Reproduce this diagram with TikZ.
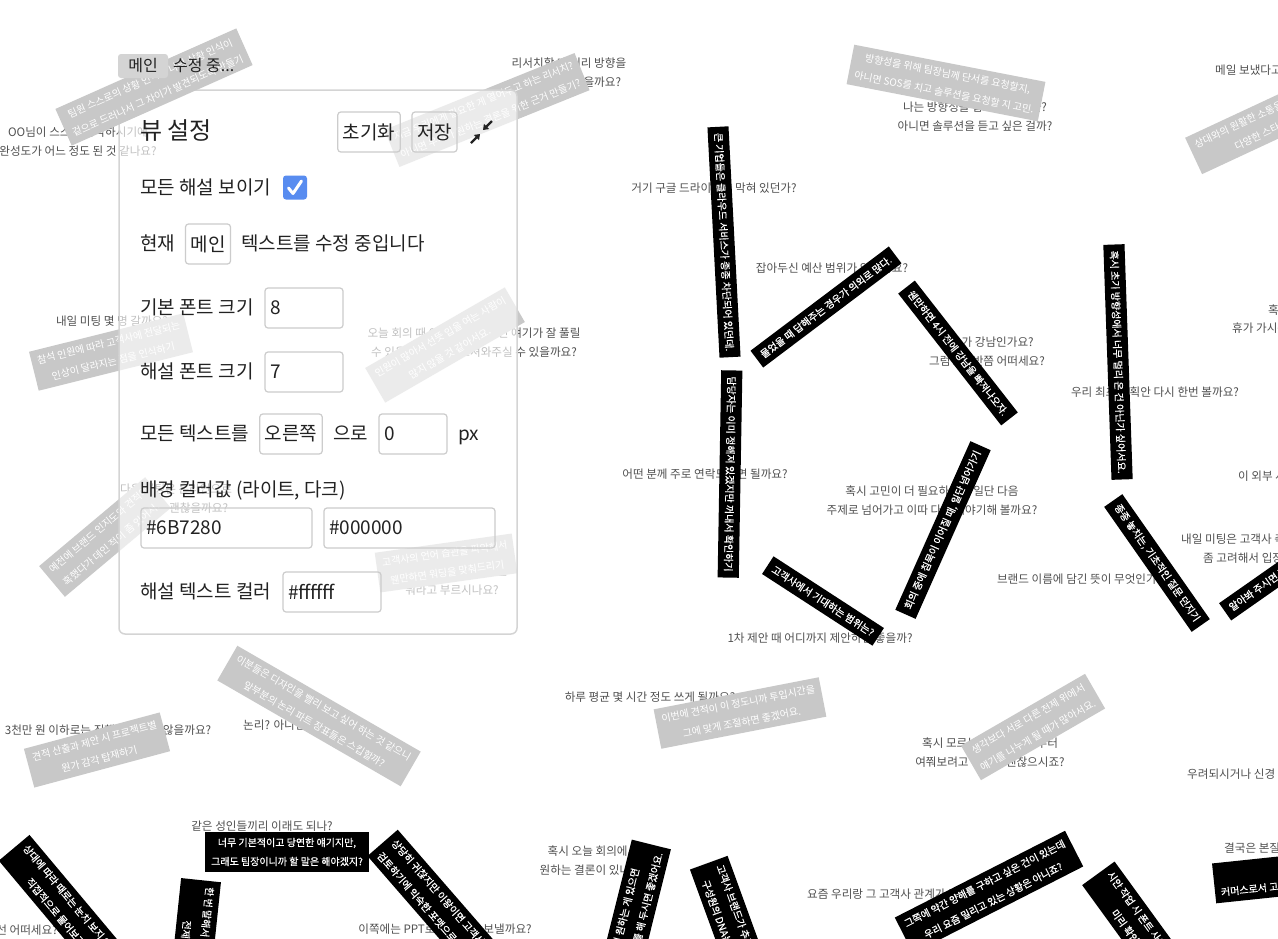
\documentclass[tikz,border=0pt]{standalone}
\usepackage{fontspec}
\setmainfont{Noto Sans CJK KR}
\newfontfamily\annbold{Noto Sans CJK KR}[FakeBold=0.6]
\usetikzlibrary{arrows.meta}

\definecolor{notegray}{RGB}{80,80,80}
\definecolor{anngray}{RGB}{200,200,200}
\definecolor{darktext}{RGB}{34,34,34}
\definecolor{panelline}{RGB}{212,212,212}
\definecolor{fieldline}{RGB}{204,204,204}
\definecolor{tabgray}{RGB}{212,212,212}
\definecolor{checkblue}{RGB}{88,140,240}

\tikzset{
  note/.style={text=notegray, font=\fontsize{11.6}{19}\selectfont, align=center, inner sep=0pt},
  annbox/.style={text=white, font=\fontsize{10}{19}\selectfont, align=center, inner xsep=6pt, inner ysep=6pt},
  grayann/.style={annbox, fill=anngray},
  blackann/.style={annbox, fill=black, font=\annbold\fontsize{10}{19}\selectfont},
  plabel/.style={anchor=west, inner sep=0pt, text height=14pt, text depth=4pt, text=darktext, font=\fontsize{19}{22}\selectfont},
  pbox/.style={draw=fieldline, line width=1.2pt, rounded corners=3pt, minimum height=40pt, inner xsep=5pt, text=darktext, font=\fontsize{19}{22}\selectfont},
  field/.style={pbox, align=left}
}

\begin{document}
\begin{tikzpicture}[x=1pt,y=-1pt]
  \fill[white] (0,0) rectangle (1278,938);
  \useasboundingbox (0,0) rectangle (1278,938);

  % Questions (gray text)
  \foreach \x/\y/\txt [count=\i] in {
      569/73/{리서치할 때 미리 방향을\\정해두면 좋았을까요?},
      78/142/{OO님이 스스로 생각하시기에\\완성도가 어느 정도 된 것 같나요?},
      975/117/{나는 방향성을 잡고 싶은 걸까?\\아니면 솔루션을 듣고 싶은 걸까?},
      714/188/{거기 구글 드라이브가 막혀 있던가?},
      832/268/{잡아두신 예산 범위가 있을까요?},
      987/352/{장소가 강남인가요?\\그럼 2시 반쯤 어떠세요?},
      705/474/{어떤 분께 주로 연락드리면 될까요?},
      932/501/{혹시 고민이 더 필요하시면 일단 다음\\주제로 넘어가고 이따 다시 이야기해 볼까요?},
      820/638/{1차 제안 때 어디까지 제안하면 좋을까?},
      1085/579/{브랜드 이름에 담긴 뜻이 무엇인가요?},
      1155/392/{우리 최초 기획안 다시 한번 볼까요?},
      112/321/{내일 미팅 몇 명 갈까요?},
      474/343/{오늘 회의 때 이런 분이 오시면 얘기가 잘 풀릴\\수 있을 것 같은데, 모셔와주실 수 있을까요?},
      176/499/{다음 미팅은 온라인으로\\진행해도 괜찮을까요?},
      452/581/{이 제품을 고객사에서는\\뭐라고 부르시나요?},
      108/730/{3천만 원 이하로는 진행이 어렵지 않을까요?},
      650/697/{하루 평균 몇 시간 정도 쓰게 될까요?},
      990/753/{혹시 모르는 부분은 처음부터\\여쭤보려고 하는데 괜찮으시죠?},
      262/826/{같은 성인들끼리 이래도 되나?},
      593/861/{혹시 오늘 회의에서\\원하는 결론이 있나요?},
      445/929/{이쪽에는 PPT로 정리해서 보낼까요?}}
    \node[note] (n\i) at (\x,\y) {\txt};

  % Questions cut at the edges
  \foreach \x/\y/\txt [count=\i] in {
      1215/70/{메일 보냈다고 하셨는데 혹시 받으셨나요?},
      1268/310/{혹시 다음 주에},
      1232/328/{휴가 가시는 분 계신가요?},
      1238/476/{이 외부 사이트는 접속이 되나요?},
      1181/539/{내일 미팅은 고객사 측 인원을},
      1203/558/{좀 고려해서 입장해야 할까요?},
      243/725/{논리? 아니면 디자인?},
      1187/774/{우려되시거나 신경 쓰이는 부분이 있으신가요?},
      1224/848/{결국은 본질이 중요하겠죠?},
      807/894/{요즘 우리랑 그 고객사 관계가 괜찮나요?}}
    \node[note, anchor=west] (w\i) at (\x,\y) {\txt};
  \node[note, anchor=east] (e1) at (58,930) {그럼 이 방향으로 우선 어떠세요?};

  % Gray notes
  \foreach \x/\y/\a/\txt [count=\i] in {
      487/110/22/{지금 우리에게 필요한 게 열어두고 하는 리서치?\\아니면 우리가 원하는 결론을 위한 근거 만들기?},
      946/83/-11/{방향성을 위해 팀장님께 단서를 요청할지,\\아니면 SOS를 치고 솔루션을 요청할 지 고민.},
      1275/118/25/{상대와의 원활한 소통을 위해 상대에 맞는\\다양한 스타일 익혀두기},
      111/352/14/{참석 인원에 따라 고객사에 전달되는\\인상이 달라지는 점을 인식하기},
      445/345/30/{인원이 많아서 선뜻 입을 여는 사람이\\많지 않을 것 같아서요.},
      105/537/40/{예전에 브랜드 인지도와 견적에\\혹했다가 데인 적이 좀 있어서.},
      446/563/8/{고객사의 언어 습관을 파악해서\\웬만하면 워딩을 맞춰드리기},
      97/750/15/{견적 산출과 제안 시 프로젝트별\\원가 감각 탑재하기},
      319/716/-30/{이분들은 디자인을 빨리 보고 싶어 하는 것 같으니\\앞부분의 논리 파트 장표들은 스킵할까?},
      740/713/11/{이번에 견적이 이 정도니까 투입시간을\\그에 맞게 조절하면 좋겠어요.},
      1033/727/30/{생각보다 서로 다른 전제 위에서\\얘기를 나누게 될 때가 많아서요.}}
    \node[grayann, rotate=\a] (g\i) at (\x,\y) {\txt};

  % Black notes
  \foreach \x/\y/\a/\txt [count=\i] in {
      724/242/-87/{큰 기업들은 클라우드 서비스가 종종 차단되어 있던데.},
      826/307/37/{물었을 때 답해주는 경우가 의외로 많다.},
      958/353/-52/{웬만하면 4시 전에 강남을 빠져나오자.},
      730/474/-91/{담당자는 이미 정해져 있겠지만 꺼내서 확인하기},
      943/530/66/{회의 중에 침묵이 이어질 때, 일단 넘어가기},
      823/601/-33/{고객사에서 기대하는 범위는?},
      1118/362/-88/{혹시 초기 방향성에서 너무 멀리 온 건 아닌가 싶어서요.},
      1157/563/-55/{종종 놓치는, 기초적인 질문 던지기},
      1282/572/35/{알아봐 주시면 감사하겠습니다.},
      287/852/0/{너무 기본적이고 당연한 얘기지만,\\그래도 팀장이니까 할 말은 해야겠지?},
      63/906/-50/{상대에 따라 때로는 눈치 보지 않고\\직접적으로 물어보기},
      192/966/-96/{한 번 말해서 다 전달되지 않는다는 것을\\전제해야 할 때도 있다},
      434/902/-49/{상당히 귀찮지만 이왕이면 고객사가\\검토하기에 익숙한 포맷으로 보내기},
      634/914/76/{혹시 원하는 게 있으면\\미리 공유를 해 두시면 좋겠어요.},
      734/932/-70/{고객사 브랜드가 추구하는 가치와\\구성원의 DNA는 일치하는지},
      989/892/27/{그쪽에 약간 양해를 구하고 싶은 건이 있는데\\우리 요즘 밀리고 있는 상황은 아니죠?},
      1141/932/-54/{시안 작업 시 폰트 사용 가능 여부\\미리 확인해두기},
      1332/871/6/{본질 놓치지 않기\\커머스로서 고객사가 가져가야 할 본질을 끝까지 지키기}}
    \node[blackann, rotate=\a] (b\i) at (\x,\y) {\txt};

  % Settings panel
  \node[draw=panelline, line width=1.5pt, rounded corners=6pt, fill=white, fill opacity=.65,
        minimum width=398pt, minimum height=544pt, inner sep=0pt] (panel) at (318,362) {};

  \node[plabel, font=\fontsize{24}{28}\selectfont] (title) at (140,134) {뷰 설정};
  \node[pbox, minimum width=62pt] (reset) at (369,132) {초기화};
  \node[pbox, minimum width=45pt] (save) at (434.5,132) {저장};
  \coordinate (shrinkA) at (492,121);
  \coordinate (shrinkB) at (483,130);
  \coordinate (shrinkC) at (471,143);
  \coordinate (shrinkD) at (480,134);
  \draw[darktext, line width=2.4pt, -{Triangle[length=5pt,width=7pt]}] (shrinkA) -- (shrinkB);
  \draw[darktext, line width=2.4pt, -{Triangle[length=5pt,width=7pt]}] (shrinkC) -- (shrinkD);

  \node[plabel] (showlbl) at (140,189) {모든 해설 보이기};
  \node[fill=checkblue, rounded corners=3pt, minimum size=24pt, inner sep=0pt] (showall) at (295,187.5) {};
  \draw[white, line width=3pt, line cap=round, line join=round] (288.5,188) -- (293,193.5) -- (301.5,181);

  \node[plabel] (curlbl) at (140,245) {현재};
  \node[pbox, minimum width=44pt] (curtab) at (208,244) {메인};
  \node[plabel] (curtxt) at (241,245) {텍스트를 수정 중입니다};

  \node[plabel] (baselbl) at (140,309) {기본 폰트 크기};
  \node[field, text width=68pt] (basesize) at (304,308) {8};

  \node[plabel] (annlbl) at (140,373) {해설 폰트 크기};
  \node[field, text width=68pt] (annsize) at (304,372) {7};

  \node[plabel] (movelbl) at (140,435) {모든 텍스트를};
  \node[pbox, minimum width=62pt] (side) at (291,434) {오른쪽};
  \node[plabel] (towards) at (333,435) {으로};
  \node[field, text width=58pt] (shift) at (413,434) {0};
  \node[plabel] (unit) at (458,435) {px};

  \node[plabel] (bglbl) at (140,491) {배경 컬러값 (라이트, 다크)};
  \node[field, text width=161pt] (bglight) at (226.5,528) {\#6B7280};
  \node[field, text width=161pt] (bgdark) at (409.5,528) {\#000000};

  \node[plabel] (fglbl) at (140,593) {해설 텍스트 컬러};
  \node[field, text width=88pt] (fgcolor) at (332,592) {\#ffffff};

  % Note drawn over the panel
  \node[grayann, rotate=24] (g12) at (154,87) {팀원 스스로의 상황 인식과 나의 상황 인식이\\겉으로 드러나서 그 차이가 발견되도록 만들기};

  % Tab
  \node[fill=tabgray, rounded corners=3pt, minimum width=50pt, minimum height=24pt, inner sep=0pt,
        text=darktext, font=\fontsize{16}{18}\selectfont] (tab) at (143,66) {메인};
  \node[anchor=west, inner sep=0pt, text=darktext, font=\fontsize{16}{18}\selectfont] (editing) at (173,66) {수정 중...};
\end{tikzpicture}
\end{document}
